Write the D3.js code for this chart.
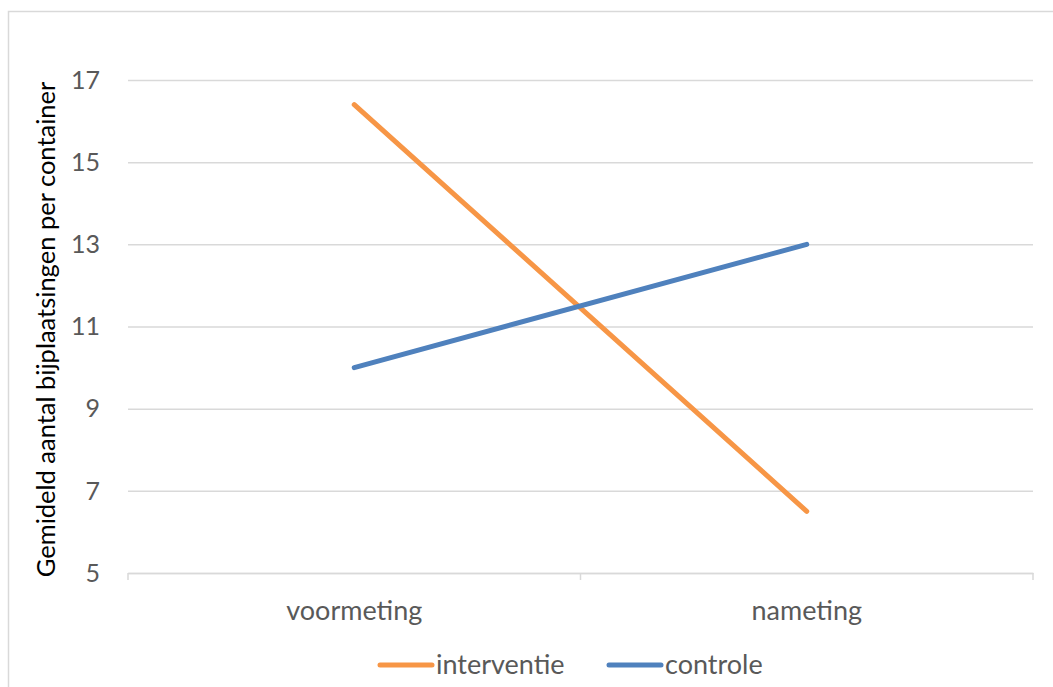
<!DOCTYPE html>
<html>
<head>
<meta charset="utf-8">
<script src="https://cdn.jsdelivr.net/npm/d3@7"></script>
<style>
  html, body { margin: 0; padding: 0; background: #fff; }
  svg { display: block; }
  text { font-family: Lato, "Open Sans", "Liberation Sans", sans-serif; }
</style>
</head>
<body>
<svg id="chart" width="1053" height="687"></svg>
<script>
// Chart data
const categories = ["voormeting", "nameting"];
const seriesNames = ["interventie", "controle"];
const interventieValues = [16.4, 6.5];
const controleValues = [10.0, 13.0];
const yTicks = [5, 7, 9, 11, 13, 15, 17];
const seriesColors = ["#F79646", "#4F81BD"];
const yTitle = "Gemideld aantal bijplaatsingen per container";

const series = [
  { name: seriesNames[0], values: interventieValues, color: seriesColors[0] },
  { name: seriesNames[1], values: controleValues, color: seriesColors[1] }
];

const svg = d3.select("#chart");
const W = 1053, H = 687;
const plot = { left: 128, right: 1033, top: 80, bottom: 573 };

// chart area frame
svg.append("rect")
  .attr("x", 8.5).attr("y", 11.5)
  .attr("width", W + 10).attr("height", H + 10)
  .attr("fill", "#fff").attr("stroke", "#D9D9D9").attr("stroke-width", 1.5);

const x = d3.scaleBand().domain(categories).range([plot.left, plot.right]).padding(0);
const y = d3.scaleLinear().domain([5, 17]).range([plot.bottom, plot.top]);

// horizontal gridlines
const yAxis = d3.axisLeft(y).tickValues(yTicks).tickSize(-(plot.right - plot.left)).tickPadding(28);
const gy = svg.append("g").attr("transform", `translate(${plot.left},0)`).call(yAxis);
gy.select(".domain").remove();
gy.selectAll(".tick line").attr("stroke", "#D9D9D9").attr("stroke-width", 1.5);
gy.selectAll(".tick text")
  .attr("fill", "#595959").attr("font-size", 25).attr("dy", "0.33em");

// category axis
const xAxis = d3.axisBottom(x).tickSize(0).tickPadding(32);
const gx = svg.append("g").attr("transform", `translate(0,${plot.bottom})`).call(xAxis);
gx.select(".domain").attr("stroke", "#D9D9D9").attr("stroke-width", 1.5);
gx.selectAll(".tick text").attr("fill", "#595959").attr("font-size", 27).attr("dy", "0.55em");

// tick marks between categories
const boundaries = [plot.left, ...categories.slice(1).map(c => x(c)), plot.right];
svg.append("g").selectAll("line").data(boundaries).join("line")
  .attr("x1", d => d).attr("x2", d => d)
  .attr("y1", plot.bottom).attr("y2", plot.bottom + 7)
  .attr("stroke", "#D9D9D9").attr("stroke-width", 1.5);

// series lines
const line = d3.line()
  .x((d, i) => x(categories[i]) + x.bandwidth() / 2)
  .y(d => y(d));

svg.append("g").selectAll("path").data(series).join("path")
  .attr("d", d => line(d.values))
  .attr("fill", "none")
  .attr("stroke", d => d.color)
  .attr("stroke-width", 5)
  .attr("stroke-linecap", "round")
  .attr("stroke-linejoin", "round");

// y axis title
svg.append("text")
  .attr("transform", `translate(55,${(plot.top + plot.bottom) / 2 + 3}) rotate(-90)`)
  .attr("text-anchor", "middle")
  .attr("fill", "#000")
  .attr("font-size", 25.5)
  .text(yTitle);

// legend
const legendY = 665;
const legendItems = [
  { s: series[0], x: 380 },
  { s: series[1], x: 609 }
];
const lg = svg.append("g");
legendItems.forEach(item => {
  lg.append("line")
    .attr("x1", item.x).attr("x2", item.x + 52)
    .attr("y1", legendY).attr("y2", legendY)
    .attr("stroke", item.s.color).attr("stroke-width", 5)
    .attr("stroke-linecap", "round");
  lg.append("text")
    .attr("x", item.x + 56).attr("y", legendY)
    .attr("dy", "0.35em")
    .attr("fill", "#595959").attr("font-size", 27)
    .text(item.s.name);
});
</script>
</body>
</html>
